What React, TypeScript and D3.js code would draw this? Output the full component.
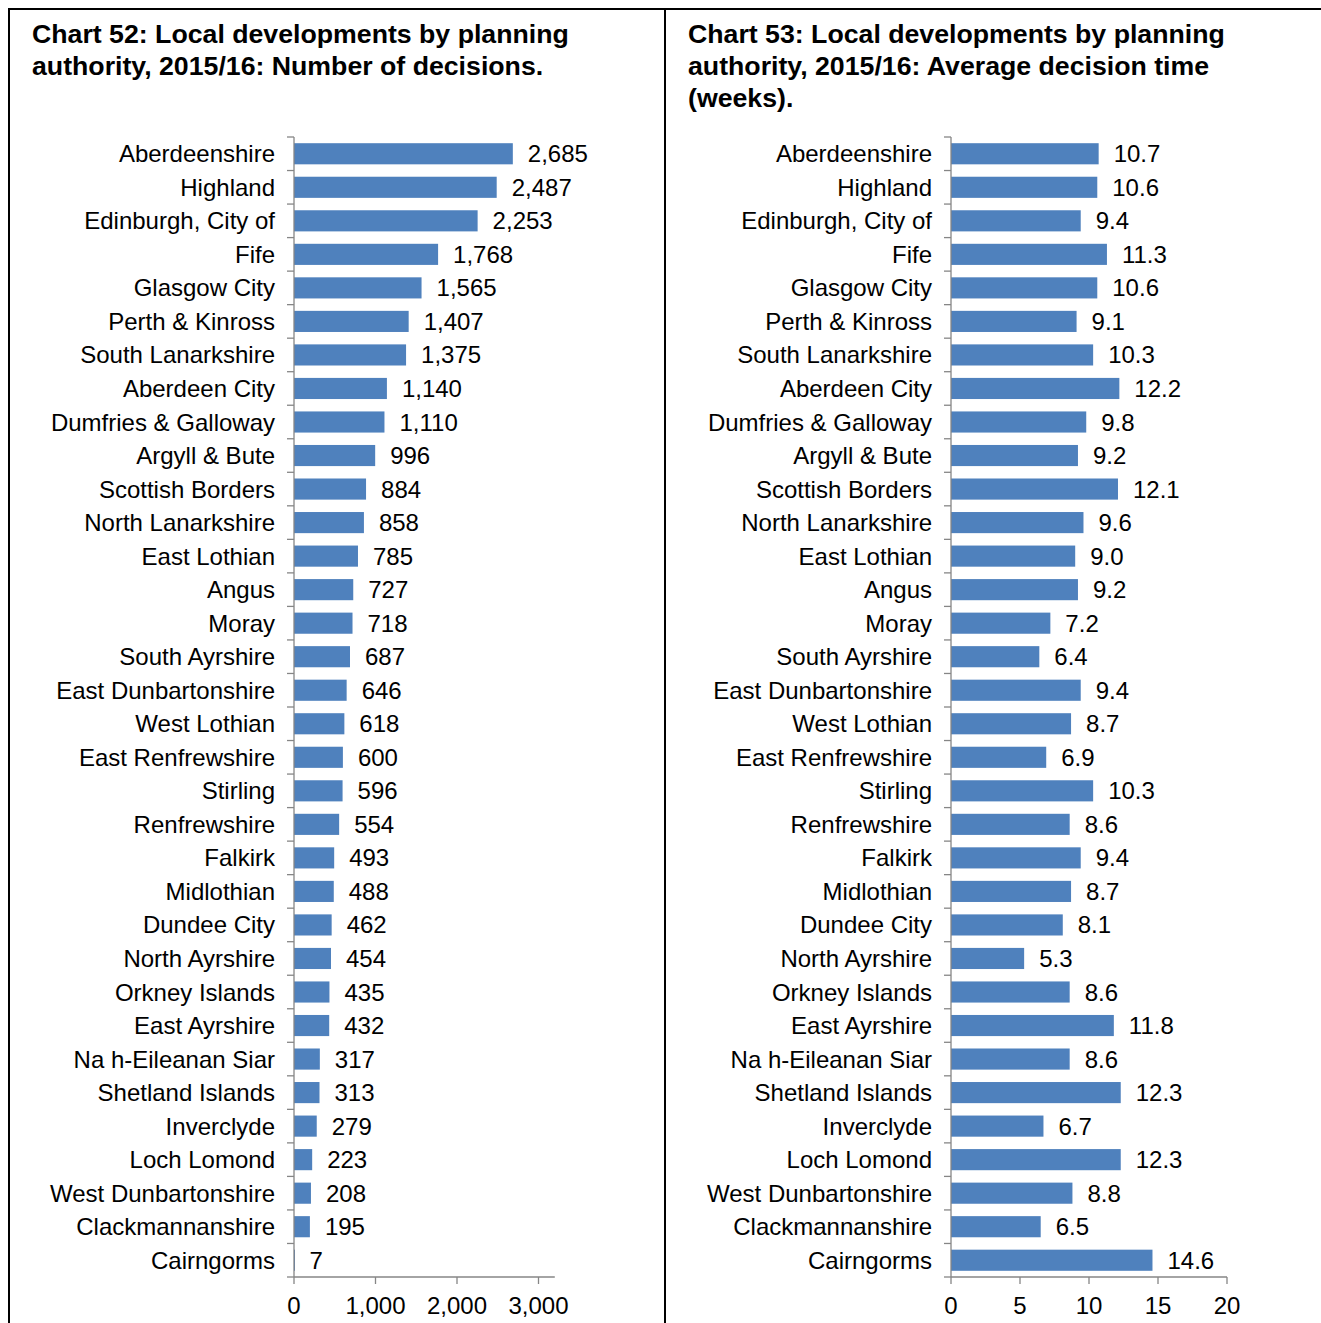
import React from "react";
import * as d3 from "d3";

const categories = [
  "Aberdeenshire", "Highland", "Edinburgh, City of", "Fife", "Glasgow City",
  "Perth & Kinross", "South Lanarkshire", "Aberdeen City", "Dumfries & Galloway",
  "Argyll & Bute", "Scottish Borders", "North Lanarkshire", "East Lothian", "Angus",
  "Moray", "South Ayrshire", "East Dunbartonshire", "West Lothian", "East Renfrewshire",
  "Stirling", "Renfrewshire", "Falkirk", "Midlothian", "Dundee City", "North Ayrshire",
  "Orkney Islands", "East Ayrshire", "Na h-Eileanan Siar", "Shetland Islands",
  "Inverclyde", "Loch Lomond", "West Dunbartonshire", "Clackmannanshire", "Cairngorms",
];

const decisions = [
  2685, 2487, 2253, 1768, 1565, 1407, 1375, 1140, 1110, 996, 884, 858, 785, 727,
  718, 687, 646, 618, 600, 596, 554, 493, 488, 462, 454, 435, 432, 317, 313, 279,
  223, 208, 195, 7,
];

const weeks = [
  10.7, 10.6, 9.4, 11.3, 10.6, 9.1, 10.3, 12.2, 9.8, 9.2, 12.1, 9.6, 9.0, 9.2,
  7.2, 6.4, 9.4, 8.7, 6.9, 10.3, 8.6, 9.4, 8.7, 8.1, 5.3, 8.6, 11.8, 8.6, 12.3,
  6.7, 12.3, 8.8, 6.5, 14.6,
];

const ticks52 = [0, 1000, 2000, 3000];
const ticks53 = [0, 5, 10, 15, 20];

const title52 = ["Chart 52: Local developments by planning", "authority, 2015/16: Number of decisions."];
const title53 = ["Chart 53: Local developments by planning", "authority, 2015/16: Average decision time", "(weeks)."];

const FONT = "'Liberation Sans', Arial, sans-serif";
const BAR = "#4F81BD";
const AXIS = "#868686";

type PanelProps = {
  values: number[];
  domainMax: number;
  axisX: number;
  axisEnd: number;
  ticks: number[];
  fmt: (v: number) => string;
  tickFmt: (v: number) => string;
  titleLines: string[];
  titleX: number;
};

function Panel({ values, domainMax, axisX, axisEnd, ticks, fmt, tickFmt, titleLines, titleX }: PanelProps) {
  const top = 137;
  const bottom = 1277;
  const x = d3.scaleLinear().domain([0, domainMax]).range([axisX, axisEnd]);
  const y = d3.scaleBand<string>().domain(categories).range([top, bottom]).paddingInner(0.37).paddingOuter(0.185);
  const step = y.step();
  return (
    <g>
      {titleLines.map((t, i) => (
        <text key={i} x={titleX} y={43 + i * 32} fontFamily={FONT} fontWeight="bold" fontSize={26.7} fill="#000">
          {t}
        </text>
      ))}
      {categories.map((c, i) => (
        <g key={c}>
          <rect x={x(0)} y={y(c)!} width={Math.max(1, x(values[i]) - x(0))} height={y.bandwidth()} fill={BAR} />
          <text x={axisX - 19} y={y(c)! + y.bandwidth() / 2} textAnchor="end" dominantBaseline="central"
            fontFamily={FONT} fontSize={24} fill="#000">{c}</text>
          <text x={x(values[i]) + 15} y={y(c)! + y.bandwidth() / 2} dominantBaseline="central"
            fontFamily={FONT} fontSize={24} fill="#000">{fmt(values[i])}</text>
        </g>
      ))}
      <line x1={axisX} x2={axisX} y1={top} y2={bottom} stroke={AXIS} strokeWidth={1.3} />
      {d3.range(categories.length + 1).map((i) => (
        <line key={i} x1={axisX - 7} x2={axisX} y1={top + i * step} y2={top + i * step} stroke={AXIS} strokeWidth={1.3} />
      ))}
      <line x1={axisX} x2={axisEnd} y1={bottom} y2={bottom} stroke={AXIS} strokeWidth={1.3} />
      {ticks.map((t) => (
        <g key={t}>
          <line x1={x(t)} x2={x(t)} y1={bottom} y2={bottom + 7} stroke={AXIS} strokeWidth={1.3} />
          <text x={x(t)} y={1305} textAnchor="middle" dominantBaseline="central" fontFamily={FONT} fontSize={24} fill="#000">
            {tickFmt(t)}
          </text>
        </g>
      ))}
    </g>
  );
}

export default function App() {
  const comma = d3.format(",");
  const oneDec = d3.format(".1f");
  return (
    <svg width={1321} height={1323} style={{ position: "absolute", left: 0, top: 0, background: "#fff" }}>
      <rect x={0} y={0} width={1321} height={1323} fill="#fff" />
      <line x1={8} x2={1321} y1={9} y2={9} stroke="#000" strokeWidth={2} />
      <line x1={9} x2={9} y1={8} y2={1323} stroke="#000" strokeWidth={2} />
      <line x1={665} x2={665} y1={8} y2={1323} stroke="#000" strokeWidth={2} />
      <Panel values={decisions} domainMax={3200} axisX={294} axisEnd={294 + 3200 * 0.0815} ticks={ticks52}
        fmt={comma} tickFmt={comma} titleLines={title52} titleX={32} />
      <Panel values={weeks} domainMax={20} axisX={951} axisEnd={1227} ticks={ticks53}
        fmt={oneDec} tickFmt={(v) => String(v)} titleLines={title53} titleX={688} />
    </svg>
  );
}
